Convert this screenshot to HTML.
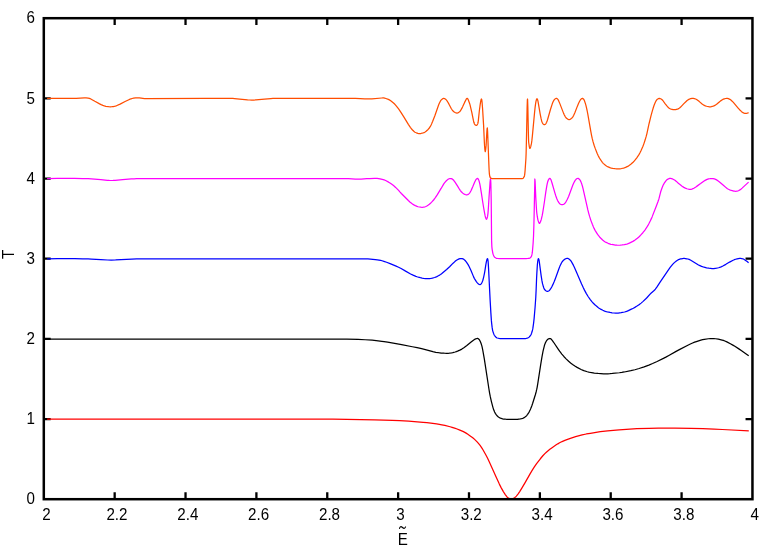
<!DOCTYPE html>
<html><head><meta charset="utf-8"><title>T vs E</title>
<style>html,body{margin:0;padding:0;background:#fff;}body{width:778px;height:545px;overflow:hidden;}svg{display:block;will-change:transform;}text{font-family:"Liberation Sans",sans-serif;font-size:16.4px;fill:#000;}</style></head><body>
<svg width="778" height="545" viewBox="0 0 778 545">
<rect x="0" y="0" width="778" height="545" fill="#fff"/>
<path d="M114.67 499.20 V492.30 M114.67 18.20 V25.10 M185.53 499.20 V492.30 M185.53 18.20 V25.10 M256.40 499.20 V492.30 M256.40 18.20 V25.10 M327.26 499.20 V492.30 M327.26 18.20 V25.10 M398.13 499.20 V492.30 M398.13 18.20 V25.10 M468.99 499.20 V492.30 M468.99 18.20 V25.10 M539.86 499.20 V492.30 M539.86 18.20 V25.10 M610.72 499.20 V492.30 M610.72 18.20 V25.10 M681.59 499.20 V492.30 M681.59 18.20 V25.10 M43.80 419.03 H50.70 M752.45 419.03 H745.55 M43.80 338.87 H50.70 M752.45 338.87 H745.55 M43.80 258.70 H50.70 M752.45 258.70 H745.55 M43.80 178.53 H50.70 M752.45 178.53 H745.55 M43.80 98.37 H50.70 M752.45 98.37 H745.55" stroke="#000" stroke-width="2.30" fill="none"/>
<path d="M47.10 419.10 L320.35 419.10 L332.85 419.19 L374.60 419.91 L392.35 420.33 L399.60 420.58 L408.60 421.13 L423.10 422.26 L426.85 422.64 L430.85 423.11 L436.60 423.87 L439.35 424.29 L441.85 424.77 L444.85 425.44 L450.10 426.75 L452.10 427.31 L454.60 428.12 L457.10 429.03 L459.85 430.12 L462.85 431.40 L464.35 432.14 L466.10 433.14 L467.85 434.26 L469.85 435.64 L472.40 437.50 L473.35 438.25 L474.60 439.35 L476.10 440.84 L477.35 442.19 L478.85 443.92 L480.10 445.45 L481.10 446.81 L482.10 448.33 L483.10 449.98 L485.90 455.00 L487.60 458.33 L489.35 462.03 L492.85 469.71 L496.35 477.60 L499.35 484.10 L501.10 487.60 L503.35 491.60 L504.35 493.21 L505.10 494.32 L506.60 496.38 L507.35 497.25 L508.00 497.80 L509.35 498.64 L510.35 499.07 L511.10 499.20 L511.85 499.12 L512.60 498.87 L513.60 498.36 L514.85 497.55 L515.60 496.89 L516.35 496.07 L518.35 493.54 L519.85 491.36 L521.85 488.14 L525.10 482.65 L530.35 473.32 L532.60 469.66 L534.35 466.95 L536.60 463.71 L540.35 458.76 L542.85 455.75 L544.85 453.64 L546.35 452.24 L548.10 450.71 L549.85 449.28 L551.35 448.14 L553.10 446.90 L555.85 445.09 L557.85 443.84 L559.60 442.82 L561.10 442.03 L562.60 441.33 L564.85 440.36 L566.85 439.56 L570.35 438.32 L575.60 436.70 L582.10 434.96 L586.35 433.99 L590.35 433.27 L600.35 431.64 L602.85 431.28 L607.60 430.78 L619.10 429.79 L629.85 429.05 L636.85 428.71 L649.10 428.34 L658.35 428.20 L674.85 428.22 L690.85 428.41 L702.85 428.71 L714.10 429.10 L722.35 429.50 L748.80 430.90" stroke="#ff0000" stroke-width="1.25" fill="none" stroke-linejoin="round" stroke-linecap="butt"/>
<path d="M47.10 339.15 L331.60 339.10 L346.85 339.17 L358.10 339.42 L365.10 339.75 L372.10 340.20 L378.10 340.80 L381.85 341.26 L384.10 341.58 L387.60 342.17 L401.60 344.72 L412.35 346.74 L417.10 347.68 L421.60 348.68 L432.85 351.61 L435.85 352.29 L438.60 352.74 L441.10 353.03 L444.35 353.24 L446.85 353.30 L448.10 353.27 L449.35 353.17 L451.60 352.89 L452.85 352.65 L455.10 352.02 L456.35 351.61 L458.10 350.93 L459.85 350.13 L461.85 349.08 L463.85 347.74 L466.85 345.48 L471.10 342.03 L473.10 340.47 L474.10 339.75 L475.10 339.15 L475.85 338.79 L476.85 338.50 L477.35 338.45 L477.60 338.47 L477.85 338.55 L478.50 338.90 L478.85 339.19 L479.60 340.20 L480.10 341.07 L480.60 342.20 L481.10 343.55 L481.70 345.40 L482.10 346.91 L482.85 350.59 L484.35 359.19 L488.85 388.51 L489.60 393.08 L490.35 396.93 L491.35 401.36 L492.85 407.08 L493.60 409.56 L494.00 410.60 L494.60 411.92 L495.35 413.39 L495.85 414.23 L496.35 414.92 L497.10 415.72 L498.10 416.70 L498.85 417.32 L499.70 417.80 L501.35 418.43 L502.60 418.83 L503.80 419.05 L505.60 419.23 L506.85 419.30 L512.35 419.35 L517.35 419.29 L520.35 418.92 L521.60 418.67 L522.60 418.41 L523.35 418.08 L524.10 417.64 L525.35 416.73 L526.35 415.90 L526.85 415.35 L527.60 414.37 L528.60 412.84 L529.35 411.59 L530.10 410.05 L530.85 408.27 L531.85 405.71 L532.60 403.54 L535.35 394.73 L536.10 392.00 L536.60 389.94 L537.10 387.55 L537.85 383.21 L540.85 363.60 L542.10 356.08 L543.10 350.81 L544.35 345.79 L544.85 344.15 L545.35 342.90 L546.10 341.49 L546.60 340.67 L547.10 340.00 L547.85 339.32 L548.60 338.84 L549.35 338.56 L549.85 338.50 L550.35 338.63 L551.10 339.04 L551.60 339.56 L552.60 340.85 L553.60 342.27 L558.35 349.43 L559.60 351.23 L561.85 354.12 L563.85 356.46 L566.35 359.09 L568.60 361.28 L570.60 363.01 L572.60 364.51 L574.85 366.05 L577.10 367.39 L581.10 369.50 L582.60 370.19 L583.85 370.68 L587.35 371.76 L588.85 372.15 L590.35 372.48 L594.35 373.06 L598.10 373.47 L603.60 373.77 L605.85 373.81 L607.85 373.77 L609.85 373.67 L612.35 373.48 L619.35 372.75 L621.85 372.40 L624.35 371.99 L630.85 370.72 L634.85 369.74 L639.10 368.48 L644.10 366.82 L648.85 365.10 L652.60 363.54 L657.10 361.48 L663.40 358.40 L665.85 357.13 L668.85 355.48 L676.10 351.34 L679.35 349.59 L687.85 345.24 L690.35 344.03 L692.60 343.02 L694.60 342.20 L696.35 341.55 L698.60 340.81 L700.85 340.15 L702.60 339.71 L704.35 339.34 L708.35 338.75 L710.35 338.56 L712.10 338.50 L713.85 338.56 L715.60 338.75 L718.35 339.21 L722.10 340.05 L723.35 340.42 L724.85 341.00 L726.85 341.92 L730.85 343.99 L732.85 345.10 L734.85 346.31 L738.85 348.86 L741.60 350.70 L745.10 353.16 L748.70 355.80" stroke="#000000" stroke-width="1.25" fill="none" stroke-linejoin="round" stroke-linecap="butt"/>
<path d="M47.10 258.84 L57.35 258.70 L66.35 258.64 L74.85 258.66 L82.60 258.77 L88.10 258.90 L91.35 259.03 L100.85 259.55 L107.60 260.00 L111.20 260.10 L115.60 259.98 L131.85 259.05 L136.60 258.90 L350.10 258.90 L364.85 258.85 L367.85 258.94 L375.35 259.53 L377.35 259.77 L380.60 260.37 L382.10 260.75 L383.85 261.29 L386.60 262.25 L390.10 263.55 L396.10 266.10 L398.60 267.22 L401.10 268.49 L405.60 271.16 L410.60 273.96 L413.10 275.16 L415.85 276.32 L417.10 276.77 L418.35 277.16 L420.35 277.67 L422.10 278.05 L423.60 278.29 L425.60 278.54 L427.10 278.66 L428.60 278.70 L429.60 278.65 L430.85 278.46 L432.35 278.11 L434.60 277.50 L435.60 277.13 L436.85 276.58 L438.35 275.81 L439.60 275.10 L440.60 274.42 L441.85 273.45 L446.60 269.45 L449.60 266.71 L453.10 263.17 L454.85 261.60 L456.10 260.58 L457.35 259.75 L458.60 259.11 L459.10 258.93 L460.10 258.66 L460.85 258.53 L461.35 258.50 L462.10 258.62 L463.00 258.90 L463.35 259.05 L463.85 259.38 L464.85 260.25 L465.35 260.75 L465.85 261.33 L466.60 262.32 L468.10 264.63 L469.10 266.50 L471.10 270.83 L473.60 276.88 L474.35 278.36 L475.10 279.69 L476.35 281.63 L477.10 282.60 L477.85 283.44 L478.35 283.89 L478.85 284.22 L479.35 284.48 L479.85 284.60 L480.10 284.56 L480.35 284.45 L481.10 283.90 L481.35 283.64 L481.85 282.79 L482.30 281.80 L482.85 280.24 L483.60 277.33 L484.40 273.60 L484.85 271.03 L485.85 264.58 L486.35 261.92 L486.85 259.84 L487.10 259.16 L487.35 258.73 L487.50 258.60 L487.60 258.67 L487.85 259.63 L488.00 260.50 L488.10 261.33 L488.35 264.85 L488.60 269.18 L490.10 299.64 L490.85 312.62 L491.35 320.13 L491.60 322.90 L492.10 327.16 L492.60 330.31 L492.80 331.10 L493.60 333.50 L494.10 334.75 L494.35 335.25 L494.60 335.63 L495.60 336.75 L496.10 337.26 L496.60 337.68 L496.85 337.84 L497.25 338.00 L499.10 338.44 L500.10 338.60 L500.85 338.65 L504.85 338.67 L518.35 338.68 L524.50 338.65 L525.35 338.57 L526.10 338.41 L527.10 338.12 L528.10 337.80 L528.60 337.55 L529.10 337.13 L529.85 336.28 L530.70 335.20 L531.10 334.51 L531.60 333.19 L532.10 331.55 L532.60 329.70 L532.85 328.43 L533.60 323.11 L534.10 318.62 L535.10 307.01 L535.80 297.00 L536.10 290.65 L536.60 278.10 L536.85 273.12 L537.35 265.06 L537.70 261.50 L538.10 259.25 L538.35 258.61 L538.40 258.60 L538.60 258.81 L538.85 259.44 L539.10 260.50 L539.35 262.07 L541.10 275.34 L541.85 280.14 L542.35 282.85 L542.60 283.90 L543.35 286.55 L543.85 288.04 L544.10 288.65 L544.35 289.14 L544.60 289.50 L545.35 290.31 L545.85 290.72 L546.60 291.06 L547.35 291.28 L547.85 291.28 L548.10 291.22 L548.60 290.98 L549.35 290.46 L549.85 289.93 L550.35 289.21 L551.35 287.58 L552.10 286.18 L552.85 284.64 L554.35 281.22 L555.60 277.93 L559.10 268.25 L559.85 266.36 L561.10 263.66 L561.60 262.72 L562.10 261.91 L562.60 261.25 L563.60 260.19 L564.35 259.53 L564.85 259.18 L565.85 258.72 L566.60 258.49 L567.35 258.39 L567.85 258.44 L568.10 258.52 L568.60 258.77 L569.10 259.12 L570.35 260.25 L571.10 261.18 L572.10 262.83 L573.35 265.16 L574.35 267.27 L576.85 272.94 L581.60 284.06 L583.10 287.33 L584.35 289.88 L586.35 293.58 L588.10 296.50 L590.10 299.37 L591.85 301.58 L593.35 303.21 L594.85 304.68 L595.85 305.57 L598.10 307.44 L599.10 308.19 L600.10 308.83 L602.85 310.26 L604.10 310.84 L605.35 311.35 L606.35 311.69 L607.35 311.95 L610.10 312.48 L612.10 312.80 L613.85 313.00 L615.60 313.10 L618.10 313.01 L621.10 312.65 L624.60 311.99 L625.60 311.70 L626.60 311.34 L628.35 310.59 L631.85 308.94 L633.35 308.19 L634.85 307.37 L636.60 306.33 L638.60 305.03 L639.85 304.13 L641.10 303.12 L643.10 301.36 L645.85 298.75 L647.10 297.46 L649.85 294.41 L651.00 293.20 L651.85 292.41 L654.10 290.53 L654.85 289.78 L655.35 289.20 L656.85 287.16 L660.10 282.10 L668.60 269.61 L670.35 267.22 L672.85 264.15 L674.35 262.61 L676.35 260.97 L677.85 259.96 L678.60 259.58 L679.35 259.29 L680.35 258.95 L681.10 258.76 L682.60 258.51 L683.60 258.41 L684.35 258.42 L685.35 258.52 L686.85 258.76 L687.85 258.99 L689.10 259.40 L690.35 259.97 L691.60 260.69 L698.10 264.72 L699.35 265.38 L701.60 266.35 L704.10 267.23 L706.60 267.84 L708.85 268.24 L712.10 268.58 L713.00 268.60 L713.85 268.55 L716.60 268.15 L718.60 267.74 L720.35 267.21 L721.60 266.67 L722.85 266.02 L725.85 264.34 L729.60 262.07 L733.10 260.26 L734.35 259.71 L735.60 259.27 L737.10 258.86 L738.35 258.63 L739.60 258.46 L740.60 258.40 L741.60 258.51 L742.85 258.81 L743.85 259.31 L745.60 260.42 L746.85 261.35 L748.60 262.80" stroke="#0000ff" stroke-width="1.25" fill="none" stroke-linejoin="round" stroke-linecap="butt"/>
<path d="M47.10 178.62 L57.35 178.40 L66.35 178.31 L74.60 178.34 L82.60 178.51 L88.10 178.70 L91.35 178.89 L100.85 179.67 L107.35 180.33 L109.35 180.46 L111.10 180.50 L113.10 180.45 L115.10 180.33 L122.60 179.61 L131.35 178.93 L134.10 178.77 L136.60 178.70 L229.35 178.60 L345.00 178.65 L348.35 178.72 L355.35 179.04 L358.35 179.10 L361.10 179.03 L366.85 178.66 L369.85 178.53 L374.60 178.41 L377.10 178.44 L378.60 178.60 L380.10 178.88 L383.20 179.60 L384.10 179.87 L385.10 180.29 L386.10 180.78 L388.60 182.17 L389.60 182.77 L391.10 183.79 L392.85 185.09 L394.35 186.30 L395.60 187.41 L397.10 188.86 L398.60 190.40 L399.85 191.88 L401.35 193.47 L405.35 197.45 L408.35 200.53 L409.85 201.92 L411.85 203.51 L413.10 204.40 L414.35 205.17 L415.35 205.68 L417.10 206.41 L418.10 206.74 L419.35 207.00 L420.85 207.23 L422.10 207.30 L423.35 207.18 L425.10 206.77 L425.85 206.50 L426.85 205.98 L428.35 205.04 L429.35 204.28 L430.85 202.93 L432.35 201.39 L433.35 200.29 L434.35 199.00 L435.35 197.58 L437.35 194.57 L441.10 188.45 L443.35 184.57 L444.10 183.44 L445.35 181.84 L446.35 180.75 L447.30 179.90 L448.10 179.29 L448.60 178.98 L449.10 178.77 L449.85 178.57 L450.35 178.50 L450.85 178.53 L451.35 178.66 L451.85 178.88 L452.35 179.13 L452.85 179.48 L453.85 180.52 L454.85 181.84 L457.60 186.19 L459.60 189.48 L460.35 190.56 L461.35 191.74 L462.10 192.50 L462.85 193.15 L463.60 193.70 L464.35 194.17 L464.85 194.43 L465.35 194.61 L466.10 194.76 L466.80 194.80 L467.10 194.76 L467.60 194.60 L468.60 194.08 L468.85 193.87 L469.35 193.33 L470.10 192.30 L470.85 190.97 L471.60 189.39 L472.85 186.61 L474.60 182.33 L475.60 180.27 L476.10 179.45 L476.60 178.88 L477.10 178.51 L477.50 178.40 L477.60 178.42 L477.85 178.61 L478.10 178.94 L478.60 179.78 L478.85 180.38 L479.35 182.03 L479.85 184.14 L480.35 186.82 L481.35 192.91 L482.60 201.24 L483.60 207.51 L484.60 213.17 L485.10 215.72 L485.50 217.30 L485.85 218.32 L486.10 218.89 L486.35 219.24 L486.45 219.30 L486.60 219.25 L486.85 218.80 L487.35 217.34 L487.60 216.18 L488.00 213.10 L488.35 208.56 L489.00 197.70 L490.05 182.30 L490.35 179.55 L490.60 178.70 L490.85 183.10 L491.20 200.00 L491.60 240.85 L491.85 246.60 L492.10 249.10 L492.85 253.34 L493.10 254.20 L493.85 255.98 L494.35 256.93 L494.70 257.30 L495.85 257.98 L496.60 258.32 L497.25 258.45 L499.85 258.55 L526.00 258.55 L527.85 258.48 L529.10 258.40 L529.60 258.24 L530.35 257.66 L531.20 256.80 L531.35 256.57 L531.60 255.87 L531.85 254.88 L532.20 253.20 L532.35 252.18 L533.10 243.45 L533.55 235.70 L533.85 226.20 L534.10 216.21 L534.85 179.00 L535.10 181.35 L535.80 197.70 L536.35 207.27 L536.60 211.00 L536.80 213.10 L537.35 216.99 L537.85 219.58 L538.10 220.51 L538.85 222.65 L539.10 223.16 L539.35 223.40 L539.60 223.31 L539.85 223.03 L540.35 222.07 L540.85 220.85 L541.35 219.16 L542.10 215.97 L542.60 213.36 L543.35 208.77 L544.35 202.25 L545.85 191.70 L546.85 185.68 L547.35 183.14 L547.70 181.80 L548.35 179.99 L548.60 179.49 L548.80 179.20 L549.35 178.61 L549.60 178.45 L549.85 178.40 L550.10 178.51 L550.35 178.75 L550.85 179.49 L551.10 180.07 L552.10 183.28 L555.10 193.60 L555.85 196.03 L556.85 198.70 L557.60 200.44 L558.10 201.45 L558.85 202.66 L559.60 203.53 L560.10 204.00 L560.60 204.30 L561.10 204.48 L561.60 204.63 L562.10 204.70 L562.60 204.65 L563.10 204.52 L563.70 204.30 L564.10 204.06 L564.60 203.57 L565.20 202.85 L566.10 201.55 L567.35 199.22 L568.60 196.51 L569.35 194.60 L572.85 185.09 L573.40 183.80 L574.35 181.84 L574.85 180.95 L575.35 180.19 L575.85 179.57 L576.35 179.05 L576.70 178.80 L577.35 178.49 L577.80 178.40 L578.10 178.44 L578.60 178.67 L579.10 178.97 L579.60 179.49 L580.10 180.20 L580.35 180.61 L580.85 181.64 L581.85 184.33 L582.60 186.78 L583.10 188.78 L587.85 209.91 L588.60 212.81 L589.60 216.39 L590.85 220.36 L592.35 224.31 L593.35 226.73 L594.10 228.39 L594.85 229.88 L595.40 230.85 L597.60 234.31 L598.60 235.72 L599.60 236.98 L600.60 238.05 L602.60 239.96 L603.85 241.02 L604.85 241.73 L605.60 242.15 L608.10 243.30 L609.60 243.89 L610.85 244.28 L611.85 244.49 L615.35 245.01 L617.10 245.19 L618.60 245.25 L620.35 245.19 L622.10 244.99 L624.35 244.60 L626.85 244.07 L628.10 243.66 L629.35 243.15 L632.85 241.41 L634.10 240.66 L635.35 239.79 L637.35 238.25 L638.60 237.19 L639.85 236.00 L641.35 234.41 L642.85 232.73 L644.10 231.17 L645.10 229.79 L646.35 227.94 L647.35 226.37 L648.10 225.09 L649.10 223.24 L650.35 220.76 L651.35 218.63 L652.10 216.89 L656.35 206.06 L657.85 202.02 L658.70 199.50 L659.10 198.13 L660.35 193.11 L660.85 191.28 L662.10 187.74 L663.10 185.34 L663.60 184.33 L664.10 183.46 L665.35 181.57 L666.10 180.58 L666.60 180.03 L667.10 179.62 L668.60 178.82 L669.60 178.46 L670.10 178.39 L670.40 178.40 L671.60 178.64 L672.35 178.90 L673.10 179.24 L674.50 180.00 L675.35 180.58 L676.35 181.41 L678.35 183.25 L679.35 184.11 L682.10 186.20 L683.85 187.38 L685.35 188.16 L686.85 188.74 L688.85 189.26 L689.60 189.37 L690.10 189.40 L690.85 189.32 L691.85 189.06 L692.85 188.70 L693.85 188.19 L695.85 186.92 L697.35 185.89 L700.60 183.59 L704.10 180.98 L705.10 180.36 L706.10 179.85 L707.10 179.41 L707.85 179.15 L708.60 178.94 L709.60 178.75 L710.60 178.59 L711.60 178.51 L712.35 178.51 L713.10 178.60 L714.35 178.90 L715.60 179.33 L716.60 179.89 L717.85 180.73 L718.85 181.47 L720.10 182.48 L723.35 185.23 L726.35 187.85 L727.10 188.42 L728.00 189.00 L729.60 189.81 L731.35 190.47 L733.85 191.07 L734.85 191.23 L735.60 191.30 L736.60 191.23 L738.20 190.80 L738.85 190.52 L739.85 189.89 L740.85 189.16 L742.10 188.11 L748.60 182.10" stroke="#ff00ff" stroke-width="1.25" fill="none" stroke-linejoin="round" stroke-linecap="butt"/>
<path d="M47.10 98.38 L54.60 98.30 L64.10 98.44 L68.35 98.43 L76.10 98.27 L84.35 97.89 L86.10 97.95 L88.10 98.16 L89.35 98.41 L90.10 98.68 L90.85 99.01 L92.10 99.68 L94.85 101.30 L99.60 103.89 L101.10 104.64 L102.85 105.36 L104.35 105.89 L105.85 106.27 L108.60 106.69 L110.50 106.80 L111.85 106.73 L113.35 106.53 L115.10 106.18 L116.35 105.78 L120.10 104.08 L125.10 101.52 L128.85 99.73 L130.10 99.16 L131.10 98.78 L132.10 98.50 L133.60 98.24 L135.60 97.99 L137.10 97.88 L138.10 97.88 L139.35 97.95 L144.60 98.57 L146.85 98.70 L205.10 98.27 L218.10 98.28 L231.10 98.40 L232.85 98.47 L234.60 98.60 L239.60 99.12 L247.60 99.87 L249.60 100.00 L251.60 100.05 L253.60 100.01 L255.85 99.89 L264.60 99.18 L270.85 98.61 L272.85 98.48 L274.85 98.41 L307.60 98.35 L353.10 98.40 L355.35 98.45 L364.85 98.84 L368.80 98.90 L371.85 98.77 L381.85 98.00 L382.85 97.94 L383.60 97.98 L384.60 98.14 L385.85 98.50 L388.35 99.42 L389.35 99.88 L390.35 100.49 L391.35 101.22 L393.50 103.00 L394.35 103.78 L395.35 104.84 L396.60 106.32 L398.60 108.90 L399.60 110.29 L401.10 112.57 L404.10 117.36 L408.35 124.37 L410.35 127.32 L411.85 129.29 L412.50 130.00 L413.85 131.31 L414.60 131.92 L415.10 132.25 L416.35 132.80 L417.85 133.31 L418.85 133.53 L419.80 133.60 L420.85 133.51 L422.10 133.22 L423.85 132.61 L424.60 132.30 L425.10 132.04 L426.10 131.28 L428.10 129.42 L429.10 128.26 L429.85 127.23 L430.35 126.43 L431.10 124.99 L431.85 123.33 L432.60 121.52 L434.85 115.71 L438.60 105.06 L439.10 103.82 L439.85 102.21 L440.60 100.80 L440.85 100.42 L441.30 99.90 L442.10 99.20 L442.60 98.82 L443.10 98.55 L443.60 98.41 L443.85 98.40 L444.35 98.50 L445.10 98.89 L445.60 99.27 L446.30 99.90 L446.85 100.55 L447.60 101.73 L448.85 103.92 L451.10 108.29 L452.10 109.77 L453.10 111.03 L453.85 111.75 L455.10 112.55 L456.10 112.99 L456.85 113.10 L457.35 113.03 L457.85 112.86 L458.85 112.30 L459.60 111.76 L460.35 110.85 L461.10 109.67 L462.10 107.90 L462.85 106.33 L464.60 102.40 L466.10 99.45 L466.60 98.73 L466.85 98.49 L467.10 98.37 L467.35 98.41 L467.60 98.62 L467.85 98.97 L468.35 99.98 L469.60 103.44 L470.10 105.11 L471.85 112.52 L473.35 120.22 L473.85 122.31 L474.10 123.11 L474.30 123.60 L474.60 124.15 L475.10 124.80 L475.35 125.03 L475.85 125.31 L476.10 125.40 L476.35 125.42 L476.60 125.34 L476.85 125.16 L477.10 124.88 L477.60 124.04 L477.85 123.46 L478.10 122.25 L478.35 120.34 L479.35 110.78 L480.10 105.17 L480.60 101.87 L480.85 100.57 L481.10 99.61 L481.40 99.00 L481.60 99.20 L481.85 100.44 L482.10 102.61 L482.60 109.04 L483.60 125.40 L484.35 142.22 L484.60 146.50 L484.85 149.35 L485.10 151.26 L485.30 151.60 L485.60 150.11 L486.10 145.39 L486.85 131.75 L487.10 128.58 L487.30 127.90 L487.35 128.09 L487.60 131.57 L488.85 163.97 L489.10 169.71 L489.35 173.56 L489.60 175.35 L489.85 176.57 L490.10 177.32 L490.30 177.60 L491.10 178.26 L491.35 178.41 L491.70 178.50 L522.60 178.50 L522.85 178.43 L523.10 178.23 L523.35 177.93 L524.35 176.30 L524.60 175.18 L524.85 173.16 L525.10 170.41 L525.90 158.80 L526.10 153.86 L526.35 143.74 L527.10 107.44 L527.35 100.42 L527.50 99.00 L527.60 99.70 L527.85 107.21 L528.35 132.19 L528.60 141.02 L528.70 142.50 L529.35 146.83 L529.60 147.92 L529.85 148.47 L530.10 148.30 L530.60 147.01 L530.85 146.18 L531.35 143.97 L531.60 142.50 L531.85 140.69 L532.35 136.16 L534.60 112.07 L535.10 107.40 L535.60 103.63 L535.85 102.08 L536.10 100.87 L536.35 100.00 L536.60 99.25 L536.85 98.77 L537.00 98.70 L537.10 98.75 L537.35 99.14 L537.60 99.82 L537.85 100.69 L538.10 101.88 L540.10 113.55 L541.10 118.63 L541.60 120.68 L541.85 121.44 L542.35 122.69 L542.85 123.61 L543.10 123.90 L543.85 124.51 L544.10 124.64 L544.40 124.70 L544.85 124.57 L545.10 124.42 L545.70 123.90 L546.10 123.35 L546.60 122.30 L547.10 121.03 L547.60 119.52 L550.60 109.03 L552.35 103.61 L553.10 101.80 L553.85 100.40 L554.35 99.67 L554.60 99.39 L555.35 98.78 L555.85 98.49 L556.10 98.42 L556.35 98.40 L556.60 98.44 L556.85 98.55 L557.35 98.89 L557.85 99.35 L558.10 99.69 L558.60 100.66 L559.85 103.63 L563.60 113.37 L564.10 114.50 L564.85 115.93 L565.35 116.78 L565.85 117.50 L566.50 118.20 L567.35 118.86 L568.10 119.32 L568.60 119.52 L569.10 119.60 L569.35 119.59 L569.85 119.47 L570.35 119.23 L570.85 118.89 L572.20 117.70 L572.85 116.86 L573.60 115.48 L574.85 112.76 L577.30 106.40 L578.60 103.31 L579.60 101.22 L580.35 99.99 L580.85 99.33 L581.10 99.08 L581.85 98.57 L582.35 98.41 L582.60 98.42 L582.85 98.53 L583.10 98.71 L583.70 99.30 L584.10 99.93 L584.35 100.51 L585.35 103.37 L585.85 105.15 L586.35 107.16 L587.10 110.50 L587.85 114.35 L590.85 131.54 L591.60 135.61 L592.20 138.40 L593.10 141.92 L594.10 145.27 L595.10 148.13 L597.10 153.15 L598.35 155.94 L599.10 157.38 L600.35 159.45 L601.35 160.99 L602.35 162.36 L602.85 162.95 L603.50 163.60 L604.85 164.78 L606.10 165.74 L606.85 166.22 L607.60 166.60 L609.85 167.55 L611.35 168.07 L612.85 168.41 L615.10 168.73 L616.60 168.87 L618.10 168.90 L619.60 168.78 L621.35 168.51 L623.60 168.06 L624.85 167.66 L626.10 167.13 L628.20 166.10 L629.10 165.58 L630.10 164.86 L631.35 163.81 L633.35 161.95 L634.35 160.91 L635.35 159.72 L636.60 158.06 L638.10 155.90 L639.10 154.34 L639.85 153.00 L640.85 151.00 L642.85 146.50 L643.85 143.87 L645.10 140.06 L646.10 136.65 L646.85 133.84 L649.10 123.49 L651.10 115.35 L652.35 110.83 L653.35 107.55 L654.10 105.31 L654.60 104.00 L655.35 102.31 L655.85 101.27 L656.35 100.38 L656.60 100.02 L657.00 99.60 L657.85 98.98 L658.60 98.56 L659.10 98.42 L659.35 98.39 L660.10 98.52 L660.60 98.71 L661.10 98.97 L662.10 99.70 L662.85 100.50 L664.85 103.35 L667.10 106.20 L668.10 107.31 L668.85 107.94 L670.10 108.72 L671.10 109.16 L673.10 109.59 L674.40 109.70 L675.60 109.59 L677.35 109.20 L678.10 108.87 L679.10 108.25 L679.85 107.71 L680.60 107.06 L683.85 103.64 L686.10 101.46 L687.10 100.56 L687.85 99.98 L688.85 99.40 L689.85 98.95 L690.70 98.70 L692.10 98.46 L692.85 98.40 L693.35 98.41 L694.35 98.58 L695.60 98.98 L696.60 99.53 L698.35 100.81 L699.35 101.60 L702.10 103.96 L702.85 104.51 L703.85 105.10 L705.35 105.83 L706.60 106.25 L708.60 106.68 L709.35 106.77 L710.05 106.80 L710.60 106.76 L711.35 106.64 L713.10 106.17 L713.85 105.88 L714.85 105.36 L715.85 104.75 L716.60 104.22 L719.60 101.66 L720.60 100.87 L722.35 99.70 L723.35 99.16 L724.35 98.79 L725.60 98.50 L726.60 98.40 L727.35 98.43 L728.35 98.68 L729.85 99.32 L730.60 99.82 L731.60 100.68 L732.60 101.64 L733.35 102.45 L738.35 108.29 L739.60 109.69 L741.35 111.40 L742.35 112.22 L743.00 112.60 L744.10 113.08 L744.85 113.31 L745.50 113.40 L746.35 113.36 L747.20 113.20 L747.85 112.97 L748.60 112.60" stroke="#ff4d00" stroke-width="1.25" fill="none" stroke-linejoin="round" stroke-linecap="butt"/>
<rect x="43.80" y="18.20" width="708.65" height="481.00" fill="none" stroke="#000" stroke-width="2.50"/>
<text transform="translate(46.40 520.00) scale(0.925 1)" text-anchor="middle">2</text>
<text transform="translate(116.92 520.00) scale(0.925 1)" text-anchor="middle">2.2</text>
<text transform="translate(187.78 520.00) scale(0.925 1)" text-anchor="middle">2.4</text>
<text transform="translate(258.65 520.00) scale(0.925 1)" text-anchor="middle">2.6</text>
<text transform="translate(329.51 520.00) scale(0.925 1)" text-anchor="middle">2.8</text>
<text transform="translate(400.38 520.00) scale(0.925 1)" text-anchor="middle">3</text>
<text transform="translate(471.24 520.00) scale(0.925 1)" text-anchor="middle">3.2</text>
<text transform="translate(542.11 520.00) scale(0.925 1)" text-anchor="middle">3.4</text>
<text transform="translate(612.97 520.00) scale(0.925 1)" text-anchor="middle">3.6</text>
<text transform="translate(683.84 520.00) scale(0.925 1)" text-anchor="middle">3.8</text>
<text transform="translate(754.70 520.00) scale(0.925 1)" text-anchor="middle">4</text>
<text transform="translate(35.05 504.45) scale(0.925 1)" text-anchor="end">0</text>
<text transform="translate(35.05 424.28) scale(0.925 1)" text-anchor="end">1</text>
<text transform="translate(35.05 344.12) scale(0.925 1)" text-anchor="end">2</text>
<text transform="translate(35.05 263.95) scale(0.925 1)" text-anchor="end">3</text>
<text transform="translate(35.05 183.78) scale(0.925 1)" text-anchor="end">4</text>
<text transform="translate(35.05 103.62) scale(0.925 1)" text-anchor="end">5</text>
<text transform="translate(35.05 23.45) scale(0.925 1)" text-anchor="end">6</text>
<text transform="translate(13.80 254.50) rotate(-90) scale(0.925 1)" text-anchor="middle">T</text>
<text transform="translate(402.90 544.70) scale(0.925 1)" text-anchor="middle">E</text>
<path d="M399.5 528.5 C399.9 526.5 401.0 526.0 402.5 527.5 C403.6 528.6 404.8 529.0 405.6 526.9" stroke="#000" stroke-width="1.1" fill="none" stroke-linecap="round"/>
</svg></body></html>
